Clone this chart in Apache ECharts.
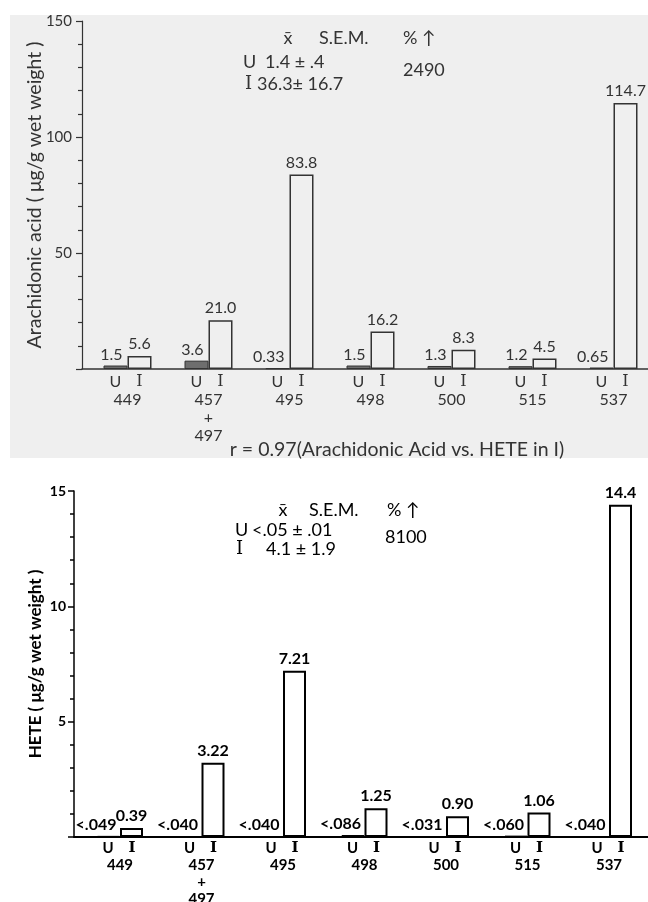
<!DOCTYPE html>
<html><head><meta charset="utf-8">
<script src="https://cdn.jsdelivr.net/npm/echarts@6/dist/echarts.min.js"></script>
<style>html,body{margin:0;padding:0;background:#fff}#c{width:648px;height:902px}</style>
</head><body><div id="c"></div>
<script>
// ---- data ----
const categories = ['449', '457\n+\n497', '495', '498', '500', '515', '537'];
const aaU = [1.5, 3.6, 0.33, 1.5, 1.3, 1.2, 0.65];
const aaI = [5.6, 21.0, 83.8, 16.2, 8.3, 4.5, 114.7];
const heteU = [0.049, 0.040, 0.040, 0.086, 0.031, 0.060, 0.040];
const heteI = [0.39, 3.22, 7.21, 1.25, 0.90, 1.06, 14.4];
const aaTicks = [0, 50, 100, 150];
const heteTicks = [0, 5, 10, 15];

const F = 'Lato, "DejaVu Sans", sans-serif';
const SERIF = '"DejaVu Serif", "Liberation Serif", serif';
const topC = '#333';
const botC = '#000';

const chart = echarts.init(document.getElementById('c'), null, {renderer: 'canvas'});

function axisGrid(i, color, w) {
  return {
    gridIndex: i, type: 'value', min: 0, max: 1, show: true,
    axisLine: {show: true, onZero: false, lineStyle: {color: color, width: w}},
    axisTick: {show: false}, axisLabel: {show: false}, splitLine: {show: false}
  };
}
function hiddenY(i, ticks) {
  return {gridIndex: i, type: 'value', min: ticks[0], max: ticks[ticks.length - 1], show: false, splitLine: {show: false}};
}
function catX(i, color, size, weight, lh, margin) {
  return {
    gridIndex: i, type: 'category', data: categories,
    axisLine: {show: false}, axisTick: {show: false}, splitLine: {show: false},
    axisLabel: {
      interval: 0, margin: margin, color: color, fontFamily: F, fontSize: size, fontWeight: weight,
      lineHeight: lh, align: 'center',
      formatter: v => '{u|U}{i|I}\n' + v,
      rich: {
        u: {width: 24, align: 'center', fontFamily: F, fontSize: size, fontWeight: weight, color: color, lineHeight: lh},
        i: {width: 24, align: 'center', fontFamily: SERIF, fontSize: size, fontWeight: weight, color: color, lineHeight: lh}
      }
    }
  };
}
function visY(i, ticks, color, w, size, weight, margin, name, nameSize, nameWeight, nameGap) {
  return {
    gridIndex: i, type: 'value', min: ticks[0], max: ticks[ticks.length - 1], interval: ticks[1] - ticks[0],
    axisLine: {show: true, lineStyle: {color: color, width: w}},
    axisTick: {show: true, length: 6, lineStyle: {color: color, width: w}},
    minorTick: {show: true, splitNumber: 5, length: 4, lineStyle: {color: color, width: w}},
    splitLine: {show: false}, minorSplitLine: {show: false},
    axisLabel: {showMinLabel: false, color: color, fontFamily: F, fontSize: size, fontWeight: weight, margin: margin},
    name: name, nameLocation: 'middle', nameGap: nameGap, nameMoveOverlap: false,
    nameTextStyle: {color: color, fontFamily: F, fontSize: nameSize, fontWeight: nameWeight}
  };
}

function txt(x, y, text, size, color, align, family) {
  return {type: 'text', x: x, y: y, z: 10,
    style: {text: text, fontSize: size, fontFamily: family || F, fill: color, align: align || 'left', verticalAlign: 'middle'}};
}

const option = {
  animation: false,
  backgroundColor: '#ffffff',
  grid: [
    {left: 82, right: -6, top: 21, bottom: 533, outerBoundsMode: 'none', containLabel: false},
    {left: 87, right: -6, top: 21, bottom: 533, outerBoundsMode: 'none', containLabel: false},
    {left: 74, right: -2, top: 491, bottom: 65, outerBoundsMode: 'none', containLabel: false},
    {left: 79.25, right: -1.75, top: 491, bottom: 65, outerBoundsMode: 'none', containLabel: false}
  ],
  xAxis: [
    axisGrid(0, topC, 1.5),
    catX(1, topC, 16, 'normal', 18, 4),
    axisGrid(2, botC, 2),
    catX(3, botC, 15, 'bold', 17, 3)
  ],
  yAxis: [
    visY(0, aaTicks, topC, 1.2, 15, 'normal', 10, 'Arachidonic acid ( μg/g wet weight )', 19.5, 'normal', 37),
    hiddenY(1, aaTicks),
    visY(2, heteTicks, botC, 1.5, 14, 'bold', 8, 'HETE ( μg/g wet weight )', 17, 'bold', 30),
    hiddenY(3, heteTicks)
  ],
  series: [
    {
      type: 'bar', xAxisIndex: 1, yAxisIndex: 1, data: aaU, barWidth: 24, barGap: '0%',
      itemStyle: {color: '#6e6e6e', borderColor: '#333', borderWidth: 1},
      label: {show: true, position: 'top', align: 'right', offset: [7, 0], distance: 3,
        color: topC, fontFamily: F, fontSize: 16, formatter: p => String(p.value)}
    },
    {
      type: 'bar', xAxisIndex: 1, yAxisIndex: 1, data: aaI, barWidth: 24, barGap: '0%',
      itemStyle: {color: 'rgba(0,0,0,0)', borderColor: '#333', borderWidth: 1.5},
      label: {show: true, position: 'top', distance: 4,
        color: topC, fontFamily: F, fontSize: 16, formatter: p => p.value.toFixed(1)}
    },
    {
      type: 'bar', xAxisIndex: 3, yAxisIndex: 3, data: heteU, barWidth: 23, barGap: '0%',
      itemStyle: {color: '#000', borderColor: '#000', borderWidth: 1},
      label: {show: true, position: 'top', align: 'right', offset: [8, 0], distance: 3,
        color: botC, fontFamily: F, fontSize: 16, fontWeight: 'bold',
        formatter: p => '<' + p.value.toFixed(3).replace(/^0/, '')}
    },
    {
      type: 'bar', xAxisIndex: 3, yAxisIndex: 3, data: heteI, barWidth: 23, barGap: '0%',
      itemStyle: {color: '#fff', borderColor: '#000', borderWidth: 2},
      label: {show: true, position: 'top', distance: 4,
        color: botC, fontFamily: F, fontSize: 16, fontWeight: 'bold',
        formatter: p => p.value >= 10 ? p.value.toFixed(1) : p.value.toFixed(2)}
    }
  ],
  graphic: [
    {type: 'rect', z: -100, shape: {x: 10, y: 15, width: 638, height: 443}, style: {fill: '#efefef'}},
    txt(288, 38, 'x̄', 18, topC, 'center'),
    txt(319, 38, 'S.E.M.', 18, topC),
    txt(403, 38, '% ↑', 18, topC),
    txt(243, 62, 'U', 18, topC),
    txt(265, 62, '1.4 ± .4', 18, topC),
    txt(403, 70, '2490', 18, topC),
    txt(245, 84, 'I', 18, topC, 'left', SERIF),
    txt(257, 84, '36.3± 16.7', 18, topC),
    txt(397, 450, 'r = 0.97(Arachidonic Acid vs. HETE in I)', 19.5, topC, 'center'),
    txt(283, 510, 'x̄', 18, botC, 'center'),
    txt(309, 510, 'S.E.M.', 18, botC),
    txt(387, 510, '% ↑', 18, botC),
    txt(235, 530, 'U', 18, botC),
    txt(252, 530, '<.05 ± .01', 18, botC),
    txt(385, 537, '8100', 18, botC),
    txt(236, 549, 'I', 18, botC, 'left', SERIF),
    txt(266, 549, '4.1 ± 1.9', 18, botC)
  ]
};
chart.setOption(option);
</script>
</body></html>
